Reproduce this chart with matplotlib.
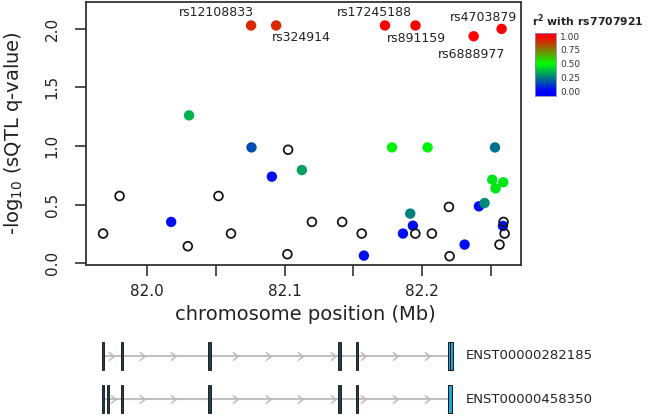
import numpy as np
import matplotlib
matplotlib.use("Agg")
import matplotlib.pyplot as plt
from matplotlib.colors import LinearSegmentedColormap
from matplotlib.path import Path
from matplotlib.patches import Rectangle

# SNPs: position (Mb), -log10 q-value, r2 with lead SNP (nan = no LD info)
snp_pos = [81.968, 81.980, 82.0175, 82.0296, 82.0305, 82.0519, 82.061, 82.0756,
           82.0759, 82.0938, 82.0907, 82.1025, 82.102, 82.1125, 82.1198, 82.1418,
           82.156, 82.1576, 82.1729, 82.178, 82.1951, 82.1913, 82.1932, 82.186,
           82.195, 82.2039, 82.207, 82.2194, 82.2199, 82.2308, 82.2374, 82.2412,
           82.2453, 82.2529, 82.2509, 82.2533, 82.2589, 82.2577, 82.2562, 82.2591,
           82.2587, 82.2599]
snp_logq = [0.253, 0.573, 0.352, 0.145, 1.26, 0.573, 0.253, 2.026,
            0.987, 2.026, 0.738, 0.967, 0.077, 0.794, 0.352, 0.352,
            0.253, 0.065, 2.026, 0.987, 2.026, 0.423, 0.32, 0.253,
            0.253, 0.987, 0.253, 0.48, 0.06, 0.159, 1.934, 0.485,
            0.513, 0.987, 0.712, 0.638, 0.69, 1.997, 0.159, 0.352,
            0.318, 0.253]
nan = np.nan
snp_r2 = [nan, nan, 0.03, nan, 0.35, nan, nan, 0.92,
          0.15, 0.92, 0.03, nan, nan, 0.32, nan, nan,
          nan, 0.03, 1.0, 0.48, 1.0, 0.25, 0.03, 0.03,
          nan, 0.48, nan, nan, nan, 0.03, 1.0, 0.03,
          0.27, 0.22, 0.45, 0.45, 0.45, 1.0, nan, nan,
          0.03, nan]

# labelled top SNPs: name, index, label offset (pixels)
top_names = ["rs12108833", "rs324914", "rs17245188", "rs891159", "rs6888977", "rs4703879"]
top_idx = [7, 9, 18, 20, 30, 37]
top_offsets = [(-35, 13), (25, -12), (-11, 13), (1, -13), (-2, -18), (-18, 11)]

# transcripts: exon positions (Mb)
transcripts = ["ENST00000282185", "ENST00000458350"]
exons = [[81.9682, 81.982, 82.0453, 82.1399, 82.1525],
         [81.9682, 81.9718, 81.982, 82.0453, 82.1399, 82.1525]]
last_exon = [[82.2184, 82.2204], [82.2184]]
last_width = [0.002, 0.003]
chevrons = [[81.9736, 81.996, 82.0191, 82.064, 82.0882, 82.1113, 82.135, 82.1573, 82.1804, 82.2034],
            [81.9755, 81.996, 82.0191, 82.064, 82.0882, 82.1113, 82.135, 82.1573, 82.1804, 82.2034]]

cmap = LinearSegmentedColormap.from_list("ld", ["#0000ff", "#00ff00", "#ff0000"])

fig = plt.figure(figsize=(6.68, 4.16), dpi=100)
W, H = 668, 416
ax = fig.add_axes([86 / W, (H - 265) / H, 435 / W, 263 / H])

pos = np.array(snp_pos)
lq = np.array(snp_logq)
r2 = np.array(snp_r2)
has = ~np.isnan(r2)

ax.scatter(pos[has], lq[has], c=cmap(r2[has]), s=56, edgecolors="none", zorder=3)
ax.scatter(pos[~has], lq[~has], s=40, facecolors="none", edgecolors="#111111",
           linewidths=1.25, zorder=4)

for name, i, off in zip(top_names, top_idx, top_offsets):
    ax.annotate(name, (pos[i], lq[i]), xytext=off, textcoords="offset pixels",
                ha="center", va="center", fontsize=9, color="#222222")

ax.set_xlim(81.9556, 82.2718)
ax.set_ylim(-0.015, 2.226)
ax.set_xticks([82.0, 82.05, 82.1, 82.15, 82.2, 82.25])
ax.set_xticklabels(["82.0", "", "82.1", "", "82.2", ""])
ax.set_yticks([0, 0.5, 1.0, 1.5, 2.0])
ax.set_yticklabels(["0.0", "0.5", "1.0", "1.5", "2.0"], rotation=90, va="center")
ax.tick_params(axis="both", length=8, width=1.2, color="#333333",
               labelsize=11, labelcolor="#222222")
ax.tick_params(axis="y", pad=11)
ax.tick_params(axis="x", pad=6)
for sp in ax.spines.values():
    sp.set_linewidth(1.3)
    sp.set_color("#333333")

ax.set_xlabel("chromosome position (Mb)", fontsize=14, color="#222222")
ax.xaxis.set_label_coords(0.505, -0.152)
ax.set_ylabel("-log$_{10}$ (sQTL q-value)", fontsize=14, color="#222222")
ax.yaxis.set_label_coords(-0.14, 0.5)

# colour key
cax = fig.add_axes([535 / W, (H - 96) / H, 21 / W, 63 / H])
grad = np.clip(np.linspace(-0.09, 1.06, 200), 0, 1).reshape(-1, 1)
cax.imshow(grad, cmap=cmap, aspect="auto", origin="lower",
           extent=[0, 1, -0.09, 1.06], vmin=0, vmax=1)
cax.set_xlim(0, 1)
cax.set_ylim(-0.09, 1.06)
cax.set_xticks([])
cax.yaxis.tick_right()
cax.set_yticks([0, 0.25, 0.5, 0.75, 1.0])
cax.set_yticklabels(["0.00", "0.25", "0.50", "0.75", "1.00"])
cax.tick_params(axis="y", length=0, pad=3, labelsize=6.5, labelcolor="#333333")
for sp in cax.spines.values():
    sp.set_linewidth(0.6)
    sp.set_color("#8888cc")
fig.text(532 / W, (H - 21) / H, r"$\mathbf{r^2}$ with rs7707921", fontsize=7.8,
         fontweight="bold", va="center", ha="left", color="#222222")

# transcript track
gax = fig.add_axes([86 / W, 0, 435 / W, 81 / H])
gax.set_xlim(ax.get_xlim())
gax.set_ylim(1.395, -0.488)
gax.axis("off")
chev = Path([(-0.5, 0.8), (0.5, 0.0), (-0.5, -0.8)], [Path.MOVETO, Path.LINETO, Path.LINETO])
half_w = 0.0008
half_h = 0.33
for row, name in enumerate(transcripts):
    start = exons[row][0]
    end = last_exon[row][-1] + last_width[row]
    gax.plot([start, end], [row, row], color="#c0c0c0", lw=1.5, zorder=1)
    gax.plot(chevrons[row], [row] * len(chevrons[row]), linestyle="none",
             marker=chev, markersize=6, markerfacecolor="none",
             markeredgecolor="#b8b8b8", markeredgewidth=1.0, zorder=2)
    for x in exons[row]:
        gax.add_patch(Rectangle((x - half_w, row - half_h), 2 * half_w, 2 * half_h,
                                facecolor="#1f3f50", edgecolor="#111111", lw=0.6, zorder=3))
    for x in last_exon[row]:
        gax.add_patch(Rectangle((x, row - half_h), last_width[row], 2 * half_h,
                                facecolor="#1aa8dc", edgecolor="#111111", lw=0.7, zorder=3))
    gax.text(82.2313, row, name, fontsize=9.5, va="center", ha="left",
             color="#222222", clip_on=False)

fig.savefig("out.png", dpi=100)
